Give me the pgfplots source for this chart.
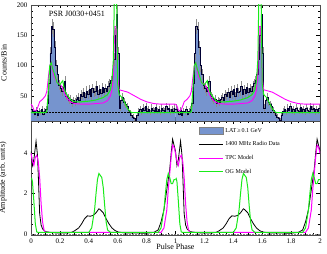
\documentclass[border=0pt]{standalone}
\usepackage{fontspec}
\setmainfont{Liberation Serif}
\usepackage{pgfplots}
\pgfplotsset{compat=1.18}
\usepackage{pgfplotstable}

\definecolor{histblue}{RGB}{118,148,206}
\definecolor{ogreen}{RGB}{25,235,25}
\definecolor{tpcmag}{RGB}{255,0,255}

% LAT counts per bin (phase bin left edge, counts), one rotation
\pgfplotstableread{
x c
0.00 28
0.01 24
0.02 20
0.03 26
0.04 18
0.05 25
0.06 22
0.07 27
0.08 20
0.09 24
0.10 28
0.11 38
0.12 70
0.13 120
0.14 165
0.15 160
0.16 130
0.17 100
0.18 85
0.19 68
0.20 62
0.21 58
0.22 64
0.23 74
0.24 50
0.25 46
0.26 42
0.27 45
0.28 38
0.29 42
0.30 40
0.31 44
0.32 48
0.33 42
0.34 52
0.35 50
0.36 56
0.37 48
0.38 58
0.39 52
0.40 60
0.41 50
0.42 62
0.43 55
0.44 58
0.45 66
0.46 52
0.47 60
0.48 54
0.49 64
0.50 56
0.51 62
0.52 58
0.53 66
0.54 70
0.55 75
0.56 85
0.57 110
0.58 150
0.59 185
0.60 120
0.61 30
0.62 42
0.63 48
0.64 40
0.65 36
0.66 32
0.67 26
0.68 22
0.69 18
0.70 15
0.71 12
0.72 10
0.73 18
0.74 24
0.75 28
0.76 22
0.77 30
0.78 26
0.79 32
0.80 25
0.81 28
0.82 22
0.83 30
0.84 26
0.85 24
0.86 31
0.87 25
0.88 28
0.89 22
0.90 30
0.91 26
0.92 24
0.93 32
0.94 27
0.95 30
0.96 23
0.97 28
0.98 25
0.99 30
1.00 30
}\gammadata

\pgfplotstableread{
x y
0.00 36
0.01 33
0.02 26
0.03 25
0.04 27
0.05 33
0.06 40
0.08 44
0.10 50
0.11 58
0.12 80
0.13 100
0.14 105
0.15 92
0.16 82
0.18 72
0.20 70
0.22 62
0.24 50
0.26 43
0.28 39
0.30 37
0.35 36
0.40 36
0.45 37
0.50 38
0.53 42
0.55 50
0.56 60
0.57 85
0.58 165
0.59 165
0.60 80
0.61 60
0.64 58
0.67 56
0.70 52
0.73 48
0.76 44
0.80 40
0.85 37
0.90 36
0.95 36
1.00 36
}\tpctop

\pgfplotstableread{
x y
0.00 22
0.10 22
0.11 24
0.12 60
0.13 100
0.14 105
0.15 95
0.16 88
0.17 80
0.18 72
0.20 68
0.21 72
0.22 75
0.23 62
0.24 55
0.26 48
0.28 42
0.30 40
0.35 40
0.40 41
0.45 43
0.50 47
0.53 52
0.55 60
0.56 75
0.57 110
0.58 260
0.59 260
0.60 70
0.61 52
0.63 47
0.65 38
0.67 28
0.69 23
0.70 22
1.00 22
}\ogtop

\pgfplotstableread{
x y
0.000 4.1
0.010 3.4
0.020 3.7
0.035 4.6
0.045 3.9
0.050 3.0
0.060 1.0
0.070 0.45
0.080 0.25
0.100 0.12
0.150 0.06
0.200 0.05
0.250 0.05
0.280 0.08
0.300 0.15
0.330 0.30
0.350 0.50
0.370 0.75
0.390 0.90
0.410 0.88
0.430 0.92
0.450 1.05
0.470 1.25
0.480 1.20
0.500 1.05
0.520 0.75
0.540 0.50
0.560 0.30
0.580 0.18
0.600 0.10
0.650 0.05
0.700 0.05
0.800 0.04
0.850 0.08
0.880 0.20
0.900 0.60
0.920 1.20
0.940 2.20
0.960 3.20
0.970 4.00
0.980 4.70
0.990 4.40
1.000 4.10
}\radio

\pgfplotstableread{
x y
0.00 4.0
0.01 3.6
0.02 3.4
0.03 3.8
0.04 3.9
0.05 3.6
0.06 2.8
0.07 1.5
0.08 0.6
0.09 0.2
0.10 0.08
0.90 0.08
0.92 0.3
0.94 1.2
0.95 2.2
0.96 3.0
0.97 3.8
0.98 4.4
0.99 4.3
1.00 4.0
}\tpcbot

\pgfplotstableread{
x y
0.000 2.7
0.005 2.75
0.010 2.6
0.020 1.6
0.030 0.5
0.040 0.1
0.050 0.08
0.400 0.08
0.420 0.3
0.440 1.2
0.450 2.0
0.460 2.7
0.470 3.0
0.480 2.9
0.490 2.8
0.500 2.3
0.510 1.4
0.520 0.6
0.530 0.2
0.550 0.08
0.880 0.08
0.900 0.3
0.920 1.2
0.930 2.0
0.940 2.7
0.950 3.0
0.960 2.8
0.970 2.5
0.980 2.5
0.990 2.7
1.000 2.7
}\ogbot

\pgfplotsset{
  panel/.style={
    scale only axis, width=289pt,
    xmin=0, xmax=2,
    xtick={0,0.2,...,2.01}, minor x tick num=3,
    tick align=inside,
    major tick length=3.5pt, minor tick length=2pt,
    every tick/.style={black, line width=0.4pt},
    axis line style={line width=0.5pt, black!70},
    tick label style={font=\fontsize{7}{8}\selectfont},
    label style={font=\fontsize{8}{9}\selectfont},
    /pgf/number format/assume math mode=true,
    ylabel style={at={(axis description cs:-0.072,0.5)}, anchor=south},
    clip=true,
  },
  legline/.style={legend image code/.code={\draw[##1] (0pt,0pt) -- (24pt,0pt);}},
}

\begin{document}
\begin{tikzpicture}
\useasboundingbox (-31pt,-133pt) rectangle (296pt,121pt);
% ---------------- top panel ----------------
\begin{axis}[panel, height=116pt, at={(0pt,0pt)}, anchor=south west,
  ymin=8, ymax=201,
  ytick={50,100,150,200}, minor y tick num=4,
  xticklabels={},
  ylabel={Counts/Bin},
]
\addplot[const plot, fill=histblue, draw=none] table[x=x, y=c] {\gammadata} \closedcycle;
\addplot[const plot, fill=histblue, draw=none] table[x expr=\thisrow{x}+1, y=c] {\gammadata} \closedcycle;
\addplot[draw=none, mark=none, error bars/.cd, y dir=both, y explicit,
  error mark=none, error bar style={draw=black!45, line width=0.6pt}]
  table[x expr=\thisrow{x}+0.005, y=c, y error expr=sqrt(\thisrow{c})] {\gammadata};
\addplot[draw=none, mark=none, error bars/.cd, y dir=both, y explicit,
  error mark=none, error bar style={draw=black!45, line width=0.6pt}]
  table[x expr=\thisrow{x}+1.005, y=c, y error expr=sqrt(\thisrow{c})] {\gammadata};
\addplot[const plot, black!80!blue, line width=0.5pt] table[x=x, y=c] {\gammadata};
\addplot[const plot, black!80!blue, line width=0.5pt] table[x expr=\thisrow{x}+1, y=c] {\gammadata};
\addplot[black, densely dotted, line width=0.5pt] coordinates {(0,23) (2,23)};
\addplot[tpcmag, line width=0.9pt] table[x=x,y=y] {\tpctop};
\addplot[tpcmag, line width=0.9pt] table[x expr=\thisrow{x}+1,y=y] {\tpctop};
\addplot[ogreen, line width=1pt] table[x=x,y=y] {\ogtop};
\addplot[ogreen, line width=1pt] table[x expr=\thisrow{x}+1,y=y] {\ogtop};
\node[anchor=west, font=\fontsize{8}{9}\selectfont] at (rel axis cs:0.05,0.92) {PSR J0030+0451};
\end{axis}
% ---------------- bottom panel ----------------
\begin{axis}[panel, height=114pt, at={(0pt,0pt)}, anchor=north west,
  ymin=-0.05, ymax=5.6,
  ytick={0,2,4}, minor y tick num=3,
  xlabel={Pulse Phase}, ylabel={Amplitude (arb. units)},
  xlabel style={at={(axis description cs:0.5,-0.05)}, anchor=north},
  legend style={at={(0.575,0.965)}, anchor=north west, draw=none, fill=none,
    font=\fontsize{6}{7}\selectfont, row sep=4pt, inner sep=1pt},
  legend cell align=left,
]
\addlegendimage{legend image code/.code={\draw[fill=histblue, draw=black!50] (0pt,-3.5pt) rectangle (24pt,3.5pt);}}
\addlegendentry{LAT\,≥\,0.1 GeV}
\addplot[black!50, densely dotted, line width=0.5pt, forget plot] coordinates {(0,0) (2,0)};
\addplot[black, line width=0.8pt, legline] table[x=x,y=y] {\radio};
\addlegendentry{1400 MHz Radio Data}
\addplot[black, line width=0.8pt, forget plot] table[x expr=\thisrow{x}+1,y=y] {\radio};
\addplot[tpcmag, line width=1pt, legline] table[x=x,y=y] {\tpcbot};
\addlegendentry{TPC Model}
\addplot[tpcmag, line width=1pt, forget plot] table[x expr=\thisrow{x}+1,y=y] {\tpcbot};
\addplot[ogreen, line width=1pt, legline] table[x=x,y=y] {\ogbot};
\addlegendentry{OG Model}
\addplot[ogreen, line width=1pt, forget plot] table[x expr=\thisrow{x}+1,y=y] {\ogbot};
\end{axis}
\end{tikzpicture}
\end{document}
